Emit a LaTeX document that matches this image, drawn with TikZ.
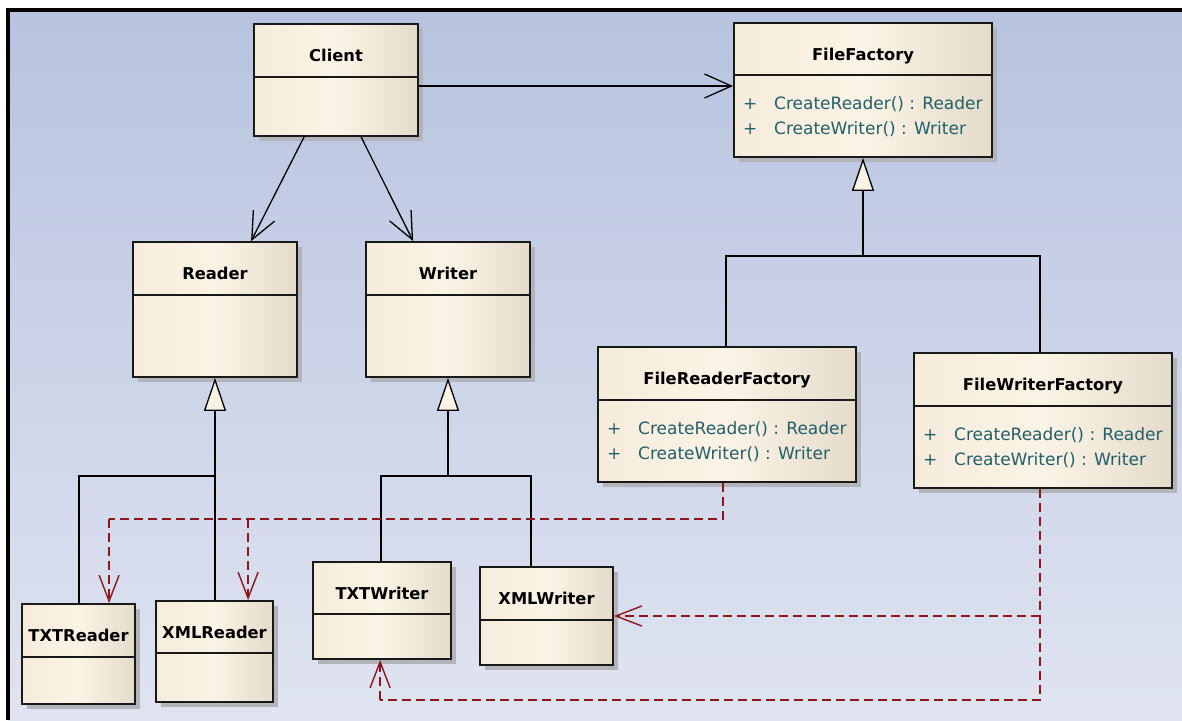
\documentclass[tikz,border=0pt]{standalone}
\usepackage{fontspec}
\setmainfont{DejaVu Sans}
\usetikzlibrary{arrows.meta,shadows,fit,calc}
\definecolor{bgtop}{RGB}{183,195,223}
\definecolor{bgbot}{RGB}{224,228,241}
\definecolor{boxl}{RGB}{246,236,220}
\definecolor{boxm}{RGB}{251,243,229}
\definecolor{boxr}{RGB}{228,219,203}
\definecolor{boxedge}{RGB}{25,25,25}
\definecolor{methc}{RGB}{35,95,105}
\definecolor{depc}{RGB}{140,22,28}
\definecolor{tric}{RGB}{250,242,228}
\definecolor{shadowc}{RGB}{178,180,186}
\tikzset{
  umlbox/.style={draw=boxedge, line width=1.8pt, left color=boxl, right color=boxr, middle color=boxm,
    inner sep=0pt, drop shadow={shadow xshift=5pt, shadow yshift=-5pt, fill=shadowc, opacity=1}},
  sepline/.style={draw=boxedge, line width=1.6pt},
  titlef/.style={inner sep=0pt, font=\bfseries\fontsize{16.3}{18}\selectfont, text=black},
  methf/.style={inner sep=0pt, font=\fontsize{17}{19}\selectfont, text=methc},
  conn/.style={draw=black, line width=1.3pt},
  assoc/.style={conn, -{Straight Barb[length=27pt,width=24pt]}},
  gen/.style={conn, -{Triangle[length=33pt,width=22pt,fill=tric]}},
  depline/.style={draw=depc, line width=1.4pt, dash pattern=on 9pt off 5pt},
  dep/.style={depline, -{Straight Barb[length=26pt,width=20pt]}}
}
\newcommand\umlcls[7]{%
  \node[umlbox, fit={(#2,#3) (#4,#5)}] (#1) {};
  \draw[sepline] (#2,#6) -- (#4,#6);
  \node[titlef, anchor=base] (#1-t) at ({(#2+#4)/2},{(#3+#6)/2+11}) {#7};
}
\newcommand\umlmeth[3]{%
  \node[methf, anchor=base west] (#1-p1) at ({#2+9},{#3+34}) {+};
  \node[methf, anchor=base west] (#1-m1) at ({#2+40},{#3+34}) {CreateReader() : Reader};
  \node[methf, anchor=base west] (#1-p2) at ({#2+9},{#3+59}) {+};
  \node[methf, anchor=base west] (#1-m2) at ({#2+40},{#3+59}) {CreateWriter() : Writer};
}
\begin{document}
\begin{tikzpicture}[x=1pt,y=-1pt]
\useasboundingbox (0,0) rectangle (1182,720);
\fill[white] (0,0) rectangle (1182,720);
\shade[top color=bgtop, bottom color=bgbot] (8,10) rectangle (1182,720);
\draw[line width=4pt] (8,720) -- (8,10) -- (1182,10);

\umlcls{client}{254}{24}{418}{136}{77}{Client}
\umlcls{ff}{734}{23}{992}{157}{75}{FileFactory}
\umlmeth{ff}{734}{75}
\umlcls{reader}{133}{242}{297}{377}{295}{Reader}
\umlcls{writer}{366}{242}{530}{377}{295}{Writer}
\umlcls{frf}{598}{347}{856}{482}{400}{FileReaderFactory}
\umlmeth{frf}{598}{400}
\umlcls{fwf}{914}{353}{1172}{488}{406}{FileWriterFactory}
\umlmeth{fwf}{914}{406}
\umlcls{txtreader}{22}{604}{135}{704}{657}{TXTReader}
\umlcls{xmlreader}{156}{601}{273}{702}{653}{XMLReader}
\umlcls{txtwriter}{313}{562}{451}{659}{614}{TXTWriter}
\umlcls{xmlwriter}{480}{567}{613}{665}{620}{XMLWriter}

% associations
\coordinate (a86) at (0,86);
\draw[assoc] (client.east |- a86) -- (ff.west |- a86);
\draw[assoc] ([xshift=51pt]client.south west) -- ([xshift=119pt]reader.north west);
\draw[assoc] ([xshift=108pt]client.south west) -- ([xshift=48pt]writer.north west);

% generalisations
\coordinate (j476) at (0,476);
\coordinate (j256) at (0,256);
\coordinate (trtop) at ([xshift=58pt]txtreader.north west);
\draw[conn] (trtop) |- (reader.south |- j476);
\draw[gen] (reader.south |- xmlreader.north) -- (reader.south);
\coordinate (twtop) at ([xshift=69pt]txtwriter.north west);
\coordinate (xwtop) at ([xshift=52pt]xmlwriter.north west);
\draw[conn] (twtop) |- (xwtop |- j476) -- (xwtop);
\draw[gen] (writer.south |- j476) -- (writer.south);
\coordinate (frftop) at ([xshift=129pt]frf.north west);
\coordinate (fwftop) at ([xshift=127pt]fwf.north west);
\draw[conn] (frftop) |- (fwftop |- j256) -- (fwftop);
\draw[gen] (ff.south |- j256) -- (ff.south);

% dependencies
\coordinate (d519) at (0,519);
\coordinate (d700) at (0,700);
\coordinate (d616) at (0,616);
\coordinate (frfout) at ([xshift=126pt]frf.south west);
\coordinate (fwfout) at ([xshift=127pt]fwf.south west);
\coordinate (trtip) at ([xshift=88pt]txtreader.north west);
\coordinate (xrtip) at ([xshift=93pt]xmlreader.north west);
\coordinate (twtip) at ([xshift=68pt]txtwriter.south west);
\draw[depline] (frfout) |- (trtip |- d519);
\draw[dep] (trtip |- d519) -- (trtip);
\draw[dep] (xrtip |- d519) -- (xrtip);
\draw[depline] (fwfout) |- (twtip |- d700);
\draw[dep] (twtip |- d700) -- (twtip);
\draw[dep] (fwfout |- d616) -- (xmlwriter.east |- d616);
\end{tikzpicture}
\end{document}
